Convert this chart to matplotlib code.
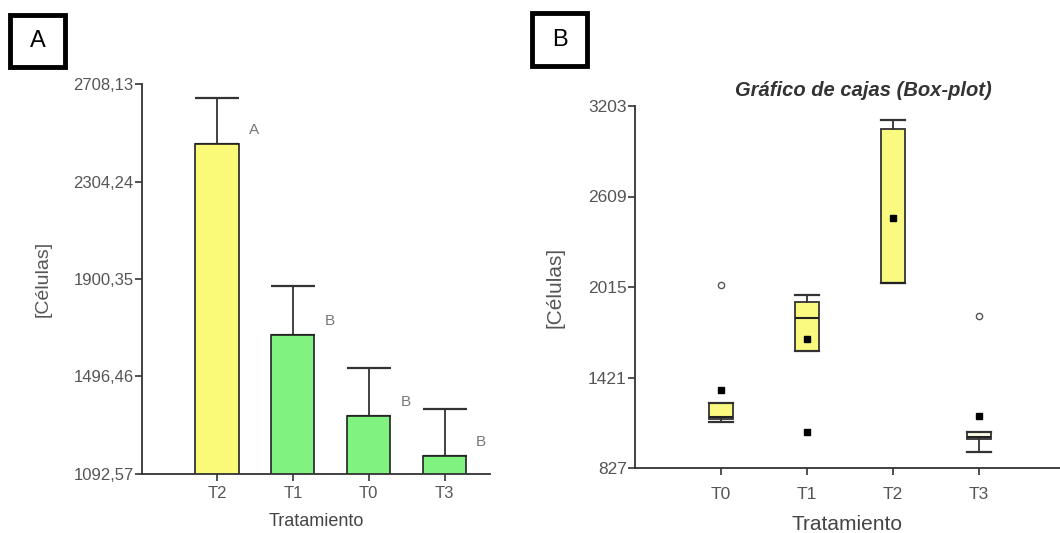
import matplotlib
matplotlib.use("Agg")
import matplotlib.pyplot as plt
from matplotlib.patches import Rectangle

plt.rcParams['font.family'] = ['Liberation Sans', 'DejaVu Sans']

# ---------------- Data ----------------
# Panel A (bar chart, mean + upper error bar)
bar_cats = ["T2", "T1", "T0", "T3"]
bar_means = [2460, 1670, 1333, 1167]
bar_err = [190, 201, 199, 195]
bar_letters = ["A", "B", "B", "B"]
bar_colors = ["#FAFA78", "#80F280", "#80F280", "#80F280"]
a_yticks = [1092.57, 1496.46, 1900.35, 2304.24, 2708.13]
a_yticklabels = ["1092,57", "1496,46", "1900,35", "2304,24", "2708,13"]

# Panel B (box plot)
box_cats = ["T0", "T1", "T2", "T3"]
box_q1 = [1150, 1595, 2041, 1017]
box_med = [1162, 1811, 2043, 1030]
box_q3 = [1252, 1916, 3051, 1063]
box_wlo = [1130, 1595, 2041, 932]
box_whi = [1252, 1962, 3110, 1063]
box_mean = [1339, 1673, 2467, 1168]
box_out_circle = [[2028], [], [], [1824]]
box_out_square = [[], [1063], [], []]
b_yticks = [827, 1421, 2015, 2609, 3203]

# ---------------- Figure ----------------
fig = plt.figure(figsize=(10.6, 5.33), dpi=100)

axis_col = "#333333"
tick_col = "#555555"

# ---------- Panel A ----------
axA = fig.add_axes([142/1060, 59/533, (490-142)/1060, (474-84)/533])
x = list(range(len(bar_cats)))
axA.bar(x, bar_means, width=0.57, color=bar_colors, edgecolor="#222222",
        linewidth=1.2, zorder=2)
axA.errorbar(x, bar_means, yerr=[[0]*len(x), bar_err], fmt="none",
             ecolor="#333333", elinewidth=1.3, capsize=15.5, capthick=1.6, zorder=1)
for xi, m, lab in zip(x, bar_means, bar_letters):
    axA.annotate(lab, (xi + 0.285, m), xytext=(10, 14), textcoords="offset pixels",
                 ha="left", va="center", fontsize=11, color="#777777")
axA.set_ylim(a_yticks[0], a_yticks[-1])
axA.set_xlim(-0.99, 3.6)
axA.set_yticks(a_yticks)
axA.set_yticklabels(a_yticklabels)
axA.set_xticks(x)
axA.set_xticklabels(bar_cats)
axA.set_xlabel("Tratamiento", fontsize=13, color="#444444", labelpad=8)
axA.set_ylabel("[Células]", fontsize=14, color="#555555", labelpad=16)

# ---------- Panel B ----------
axB = fig.add_axes([635/1060, 65/533, (1060-635)/1060, (468-106)/533])
stats = []
for i, c in enumerate(box_cats):
    stats.append(dict(label=c, q1=box_q1[i], med=box_med[i], q3=box_q3[i],
                      whislo=box_wlo[i], whishi=box_whi[i], mean=box_mean[i],
                      fliers=box_out_circle[i]))
bx = axB.bxp(stats, positions=list(range(len(box_cats))), widths=0.28,
             patch_artist=True, showmeans=True, capwidths=0.28,
             boxprops=dict(facecolor="#FAFA80", edgecolor="#333333", linewidth=1.3),
             medianprops=dict(color="#222222", linewidth=1.5),
             whiskerprops=dict(color="#333333", linewidth=1.3),
             capprops=dict(color="#333333", linewidth=1.6),
             meanprops=dict(marker="s", markerfacecolor="black", markeredgecolor="black",
                            markersize=5),
             flierprops=dict(marker="o", markerfacecolor="white", markeredgecolor="#555555",
                             markersize=4.5, markeredgewidth=1.0))
bx["boxes"][3].set_facecolor("#FDFDE6")
for i, pts in enumerate(box_out_square):
    if pts:
        axB.scatter([i]*len(pts), pts, marker="s", s=25, color="black", zorder=3)
axB.set_ylim(b_yticks[0], b_yticks[-1])
axB.set_xlim(-1.0, 3.94)
axB.set_yticks(b_yticks)
axB.set_yticklabels([str(v) for v in b_yticks])
axB.set_xticks(list(range(len(box_cats))))
axB.set_xticklabels(box_cats)
axB.set_xlabel("Tratamiento", fontsize=15, color="#444444", labelpad=9)
axB.set_ylabel("[Células]", fontsize=15, color="#555555", labelpad=17)

for ax, lsz, xpad in ((axA, 12, 4), (axB, 12.5, 9)):
    for s in ("top", "right"):
        ax.spines[s].set_visible(False)
    for s in ("left", "bottom"):
        ax.spines[s].set_color(axis_col)
        ax.spines[s].set_linewidth(1.3)
    ax.tick_params(axis="both", direction="out", length=5, width=1.2,
                   color=axis_col, labelcolor=tick_col, labelsize=lsz)
    ax.tick_params(axis="y", pad=1)
    ax.tick_params(axis="x", pad=xpad)

fig.text(863/1060, 1 - 90/533, "Gráfico de cajas (Box-plot)", ha="center", va="center",
         fontsize=14.5, fontweight="bold", fontstyle="italic", color="#333333")

# Panel letter boxes
for (x0, y0, x1, y1, lab) in [(10, 15, 65, 67, "A"), (532, 13, 587, 66, "B")]:
    fig.patches.append(Rectangle((x0/1060, 1 - y1/533), (x1-x0)/1060, (y1-y0)/533,
                                 transform=fig.transFigure, fill=False,
                                 edgecolor="black", linewidth=3.5))
    fig.text((x0+x1)/2/1060, 1 - (y0+y1)/2/533, lab, ha="center", va="center",
             fontsize=17, color="black")

fig.savefig("out.png", dpi=100)
